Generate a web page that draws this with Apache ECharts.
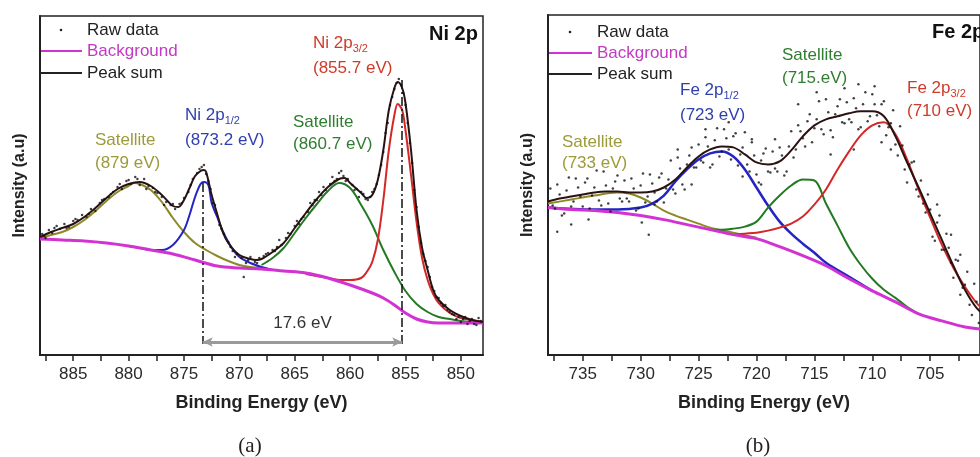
<!DOCTYPE html>
<html>
<head>
<meta charset="utf-8">
<script src="https://cdn.jsdelivr.net/npm/echarts@6/dist/echarts.min.js"></script>
<style>
  html, body { margin: 0; padding: 0; background: #fff; }
  #chart { width: 980px; height: 457px; }
</style>
</head>
<body>
<div id="chart"></div>
<script>
// ---- panel (a) Ni 2p : [binding energy, intensity] ----
const tickValuesA = [887.5, 885, 882.5, 880, 877.5, 875, 872.5, 870, 867.5, 865, 862.5, 860, 857.5, 855, 852.5, 850];
const tickLabelsA = [885, 880, 875, 870, 865, 860, 855, 850];

const backgroundA = [[888,116],[886,115],[884,114],[882,112],[880,109],[878,105],[876,101],[874,95],[872,89],[870,87],[868,86],[866,84],[864,82],[862,77],[860,70],[858,62],[857,57],[856,50],[855,42],[854,36],[853,33],[852,32],[850,32],[848,32]];
const satellite879 = [[888,117],[887,120],[886,123],[885,128],[884,135],[883,144],[882,154],[881,163],[880,169],[879.5,172],[879,171],[878,165],[877,153],[876,137],[875,123],[874,112],[873,105],[872,99],[871,94],[870,90],[869,88],[868,87],[867,85]];
const ni2p12 = [[880,109],[879,107],[878,105],[877,105],[876,110],[875,125],[874.5,140],[874,158],[873.5,171],[873.2,173],[872.8,170],[872.5,152],[872,138],[871.5,124],[871,113],[870.5,104],[870,98],[869,92],[868,88],[867,85]];
const satellite8607 = [[868,90],[867,97],[866,107],[865,122],[864,137],[863,151],[862,164],[861,172],[860,167],[859,150],[858,130],[857,105],[856,83],[855,64],[854,51],[853,43],[852,38],[851,36],[850,34],[848,32]];
const ni2p32 = [[864,81],[862,77],[861,75],[860,75],[859,77],[858.5,83],[858,93],[857.5,115],[857,155],[856.5,205],[856,240],[855.7,251],[855.3,245],[855,225],[854.5,180],[854,133],[853.5,97],[853,75],[852.5,61],[852,52],[851,42],[850,37],[849,35],[848,33]];
const peakSumA = [[888,118],[887,123],[886,127],[885,131],[884,138],[883,147],[882,157],[881,166],[880,171],[879,173],[878,169],[877,160],[876,149],[875.5,148],[875,155],[874.5,167],[874,179],[873.5,184],[873.2,185],[873,183],[872.5,160],[872,141],[871.5,123],[871,112],[870,100],[869,96],[868.5,95],[868,96],[867,103],[866,112],[865,127],[864,142],[863,156],[862,168],[861,176],[860.5,177],[860,172],[859,162],[858.5,157],[858,160],[857.5,175],[857,205],[856.5,245],[856,267],[855.7,273],[855.3,267],[855,252],[854.5,205],[854,145],[853.5,107],[853,85],[852.5,65],[852,55],[851,45],[850,39],[849,35],[848,33]];
const rawA = [[887.8,121],[887.6,119],[887.5,117],[887.2,125],[886.9,122],[886.7,127],[886.5,129],[886.2,126],[885.8,131],[885.6,127],[885.4,128],[885,134],[884.8,136],[884.6,135],[884.2,140],[883.8,138],[883.6,141],[883.4,146],[883,144],[882.6,152],[882.4,155],[882.2,156],[881.8,158],[881.6,161],[881.4,163],[881,168],[880.8,171],[880.6,166],[880.2,174],[880,175],[879.8,171],[879.4,178],[879.2,176],[879,170],[878.6,176],[878.4,166],[878.2,169],[877.8,167],[877.6,163],[877.4,162],[877,158],[876.8,150],[876.6,153],[876.2,150],[876,151],[875.8,146],[875.4,151],[875.2,152],[875,157],[874.6,163],[874.4,170],[874.2,176],[873.8,182],[873.6,186],[873.4,188],[873.2,190],[873,181],[872.8,174],[872.6,166],[872.4,152],[872.2,150],[871.8,130],[871.6,126],[871.4,121],[871,113],[870.8,108],[870.6,104],[870.4,98],[870.2,101],[869.8,97],[869.6,78],[869.4,92],[869.2,95],[869,98],[868.6,93],[868.4,92],[868.2,97],[867.8,99],[867.6,101],[867.4,102],[867,105],[866.8,104],[866.6,108],[866.4,115],[866.2,110],[865.8,117],[865.6,122],[865.4,121],[865,129],[864.8,134],[864.6,131],[864.4,136],[864.2,138],[863.8,143],[863.6,152],[863.4,150],[863.2,155],[863,155],[862.8,163],[862.6,160],[862.4,168],[862.2,165],[861.8,171],[861.6,178],[861.4,174],[861.2,176],[861,182],[860.8,184],[860.6,179],[860.4,174],[860.2,176],[859.8,170],[859.6,165],[859.4,166],[859.2,158],[859,163],[858.8,161],[858.6,156],[858.4,155],[858.2,158],[858,163],[857.8,166],[857.6,171],[857.4,180],[857.2,190],[857,203],[856.8,222],[856.6,232],[856.4,250],[856.2,258],[856,266],[855.8,272],[855.6,276],[855.4,270],[855.2,262],[855,250],[854.8,232],[854.6,212],[854.4,192],[854.2,165],[854,148],[853.8,128],[853.6,112],[853.4,101],[853.2,94],[853,88],[852.8,78],[852.6,68],[852.4,64],[852.2,58],[852,57],[851.8,52],[851.6,49],[851.4,50],[851.2,45],[851,43],[850.8,41],[850.6,40],[850.4,36],[850.2,38],[850,33],[849.8,36],[849.6,38],[849.4,31],[849.2,34],[849,36],[848.8,31],[848.6,30],[848.4,37],[848.2,34]];

// peak split marker: positions, top of dashed guides, level of arrow
const splitPeaksA = [873.3, 855.3];
const splitTopsA = [172, 275];
const splitArrowA = 13;
const splitTextA = '17.6 eV';

// ---- panel (b) Fe 2p ----
const tickValuesB = [737.5, 735, 732.5, 730, 727.5, 725, 722.5, 720, 717.5, 715, 712.5, 710, 707.5, 705, 702.5];
const tickLabelsB = [735, 730, 725, 720, 715, 710, 705];

const backgroundB = [[738,147],[736,145],[734,144],[732,142],[730,139],[728,135],[726,130],[724,125],[722,120],[720,116],[718,108],[716,99],[714,89],[712,76],[710,64],[708,53],[706,41],[704,34],[702,28],[700,25]];
const satellite733 = [[738,151],[736,155],[734,159],[732,162],[731,161],[730,157],[729,151],[728,144],[727,139],[726,135],[725,131],[724,127],[722,122],[720,117]];
const fe2p12 = [[738,147],[734,145],[732,145],[730,147],[729,151],[728,159],[727,173],[726,185],[725,195],[724,201],[723,203],[722,198],[721,185],[720,167],[719,149],[718,133],[717,121],[716,111],[715,102],[714,92],[712,78],[710,64]];
const satellite715 = [[724,125],[723,125],[722,126],[721,128],[720,133],[719,147],[718,159],[717,169],[716,175],[715,174],[714,151],[713,129],[712,107],[711,90],[710,76],[709,65],[708,57],[707,48],[706,41]];
const fe2p32 = [[722,120],[721,121],[720,122],[719,124],[718,127],[717,131],[716,138],[715,150],[714,165],[713,185],[712,203],[711,219],[710,229],[709,232],[708,220],[707,195],[706,165],[705,137],[704,110],[703,87],[702,68],[701,52],[700,41]];
const peakSumB = [[738,153],[737,156],[736,158],[735,160],[734,162],[733,163],[732,163],[731,162],[730,162],[729,163],[728,167],[727,175],[726,187],[725,198],[724,205],[723,208],[722,207],[721,200],[720,192],[719,190],[718,193],[717,204],[716,218],[715,229],[714,235],[713,238],[712,241],[711,243],[710,243],[709,238],[708,218],[707,192],[706,167],[705,141],[704,115],[703,89],[702,65],[701,47],[700,37]];
const rawB = [[737.8,166],[737.6,149],[737.4,146],[737.2,123],[737.2,170],[737,160],[736.8,139],[736.6,141],[736.4,164],[736.2,177],[736,130],[736,148],[735.8,153],[735.6,176],[735.4,167],[735.2,158],[735,148],[734.8,172],[734.6,176],[734.5,135],[734.4,146],[734.2,159],[734,167],[733.8,184],[733.6,154],[733.4,149],[733.2,183],[733,169],[732.8,151],[732.6,143],[732.4,166],[732.2,173],[732,179],[731.8,156],[731.6,153],[731.4,174],[731.2,156],[731,153],[730.8,176],[730.6,166],[730.4,144],[730.2,146],[730,169],[729.9,132],[729.8,181],[729.6,152],[729.4,158],[729.3,120],[729.2,180],[729,171],[728.8,150],[728.8,162],[728.6,153],[728.4,177],[728.2,181],[728,152],[727.8,166],[727.6,175],[727.4,194],[727.2,165],[727,161],[726.8,205],[726.8,197],[726.6,186],[726.4,170],[726.2,165],[726,190],[725.8,199],[725.6,170],[725.6,207],[725.4,187],[725.2,187],[725,210],[724.8,194],[724.6,192],[724.4,225],[724.4,217],[724.2,208],[724,187],[723.8,190],[723.6,214],[723.4,226],[723.2,198],[723,203],[722.8,225],[722.6,216],[722.4,232],[722.4,205],[722.2,195],[722,218],[721.8,221],[721.6,189],[721.4,200],[721.2,178],[721.2,207],[721,222],[720.8,190],[720.6,183],[720.4,212],[720.4,215],[720.2,199],[720,180],[719.8,172],[719.6,170],[719.6,194],[719.4,201],[719.2,206],[719,183],[718.8,182],[718.6,203],[718.4,215],[718.4,186],[718.2,183],[718,207],[717.8,199],[717.6,179],[717.4,183],[717.2,208],[717,223],[716.8,197],[716.6,205],[716.4,250],[716.4,229],[716.2,223],[716,216],[715.8,208],[715.6,233],[715.4,240],[715.2,212],[715,226],[714.8,262],[714.8,235],[714.6,253],[714.4,225],[714.2,220],[714,255],[713.8,242],[713.6,200],[713.6,224],[713.4,217],[713.2,240],[713,248],[712.8,255],[712.6,232],[712.4,266],[712.4,231],[712.2,252],[712,235],[711.8,232],[711.6,205],[711.6,256],[711.4,246],[711.2,270],[711.2,225],[711,227],[710.8,250],[710.6,262],[710.4,233],[710.2,238],[710,260],[709.8,250],[709.8,268],[709.6,239],[709.4,228],[709.2,212],[709.2,250],[709,253],[708.8,219],[708.6,227],[708.4,205],[708.4,231],[708.2,244],[708,210],[707.8,199],[707.6,228],[707.4,209],[707.2,185],[707,172],[706.8,190],[706.6,192],[706.4,193],[706.2,165],[706,158],[705.8,174],[705.6,151],[705.4,142],[705.2,160],[705,145],[704.8,118],[704.6,114],[704.4,150],[704.4,132],[704.2,139],[704,105],[703.8,105],[703.6,121],[703.4,107],[703.2,120],[703.2,92],[703,77],[702.8,95],[702.6,94],[702.4,100],[702.4,60],[702.2,67],[702,70],[701.8,83],[701.6,50],[701.4,40],[701.2,71],[701,53],[700.8,32]];

const FONT = 'Liberation Sans, Arial, sans-serif';
const C = {
  raw: '#111111', bg: '#d332d3', sum: '#2b1212',
  blue: '#2424c4', olive: '#8c8a26', green: '#237a23', red: '#d42828',
  oliveText: '#9c9a3a', blueText: '#2f3fae', greenText: '#2f7d2f', redText: '#d03a2a'
};

function curve(name, data, color, width, gi, z) {
  return {
    name: name, type: 'line', xAxisIndex: gi, yAxisIndex: gi, data: data,
    showSymbol: false, smooth: 0.35, z: z,
    lineStyle: { color: color, width: width }, itemStyle: { color: color }
  };
}

function xAxisFor(gi, min, max, ticks, labels) {
  return {
    gridIndex: gi, type: 'value', min: min, max: max, inverse: true,
    name: 'Binding Energy (eV)', nameLocation: 'middle', nameGap: 39,
    nameTextStyle: { fontFamily: FONT, fontSize: 18, fontWeight: 'bold', color: '#222' },
    axisLine: { show: true, lineStyle: { color: '#222', width: 2 } },
    axisTick: { show: true, customValues: ticks, length: 6, lineStyle: { color: '#222', width: 1.5 } },
    axisLabel: { customValues: labels, fontFamily: FONT, fontSize: 17, color: '#2a2a2a', margin: 11 },
    splitLine: { show: false }
  };
}

function yAxisFor(gi) {
  return {
    gridIndex: gi, type: 'value', min: 0, max: 339,
    name: 'Intensity (a.u)', nameLocation: 'middle', nameGap: 12, nameRotate: 90,
    nameTextStyle: { fontFamily: FONT, fontSize: 16, fontWeight: 'bold', color: '#222' },
    axisLine: { show: true, lineStyle: { color: '#222', width: 2 } },
    axisTick: { show: false }, axisLabel: { show: false }, splitLine: { show: false }
  };
}

function txt(x, y, text, color, size, weight) {
  return {
    type: 'text', x: x, y: y, silent: true,
    style: { text: text, fill: color, font: (weight || 'normal') + ' ' + size + 'px ' + FONT, verticalAlign: 'middle' }
  };
}

function subTxt(x, y, main, sub, color) {
  return {
    type: 'text', x: x, y: y, silent: true,
    style: {
      text: '{m|' + main + '}{s|' + sub + '}', verticalAlign: 'middle',
      rich: {
        m: { fill: color, fontFamily: FONT, fontSize: 17, lineHeight: 22, verticalAlign: 'middle' },
        s: { fill: color, fontFamily: FONT, fontSize: 11, lineHeight: 13, verticalAlign: 'bottom' }
      }
    }
  };
}

function legendBlock(x0, lineEnd, yRaw, yBg, ySum) {
  return [
    { type: 'circle', shape: { cx: (x0 + lineEnd) / 2, cy: yRaw, r: 1.3 }, style: { fill: '#222' }, silent: true },
    { type: 'line', shape: { x1: x0, y1: yBg, x2: lineEnd, y2: yBg }, style: { stroke: C.bg, lineWidth: 2 }, silent: true },
    { type: 'line', shape: { x1: x0, y1: ySum, x2: lineEnd, y2: ySum }, style: { stroke: '#222', lineWidth: 2 }, silent: true },
    txt(lineEnd + 5, yRaw, 'Raw data', '#222', 17),
    txt(lineEnd + 5, yBg, 'Background', '#c23ac2', 17),
    txt(lineEnd + 5, ySum, 'Peak sum', '#222', 17)
  ];
}

const splitMarks = {
  silent: true, animation: false, symbol: 'none',
  lineStyle: { color: '#111', width: 1.5, type: [9, 3, 2, 3] },
  label: { show: false },
  data: [
    [{ coord: [splitPeaksA[0], splitTopsA[0]] }, { coord: [splitPeaksA[0], splitArrowA - 2] }],
    [{ coord: [splitPeaksA[1], splitTopsA[1]] }, { coord: [splitPeaksA[1], splitArrowA - 2] }],
    [
      {
        coord: [splitPeaksA[0], splitArrowA], symbol: 'arrow', symbolSize: [7, 10],
        lineStyle: { color: '#9a9a9a', width: 3, type: 'solid' },
        label: { show: true, position: 'middle', distance: 10, formatter: splitTextA, fontFamily: FONT, fontSize: 17, color: '#333' }
      },
      { coord: [splitPeaksA[1], splitArrowA], symbol: 'arrow', symbolSize: [7, 10] }
    ]
  ]
};

const sumA = curve('Peak sum', peakSumA, C.sum, 2, 0, 6);
sumA.markLine = splitMarks;

const chart = echarts.init(document.getElementById('chart'), null, { renderer: 'canvas' });
chart.setOption({
  animation: false,
  backgroundColor: '#ffffff',
  grid: [
    { left: 40, top: 16, width: 443, height: 339, show: true, borderColor: '#222', borderWidth: 1.5, backgroundColor: 'transparent' },
    { left: 548, top: 15, width: 444, height: 340, show: true, borderColor: '#222', borderWidth: 1.5, backgroundColor: 'transparent' }
  ],
  xAxis: [
    xAxisFor(0, 848, 888, tickValuesA, tickLabelsA),
    xAxisFor(1, 700.7, 738, tickValuesB, tickLabelsB)
  ],
  yAxis: [yAxisFor(0), yAxisFor(1)],
  series: [
    curve('Satellite 879', satellite879, C.olive, 2, 0, 2),
    curve('Ni 2p1/2', ni2p12, C.blue, 2, 0, 2),
    curve('Satellite 860.7', satellite8607, C.green, 2, 0, 2),
    curve('Ni 2p3/2', ni2p32, C.red, 2, 0, 2),
    curve('Background', backgroundA, C.bg, 3, 0, 4),
    sumA,
    { name: 'Raw data', type: 'scatter', xAxisIndex: 0, yAxisIndex: 0, data: rawA, symbolSize: 2.5, itemStyle: { color: C.raw }, z: 8 },

    curve('Satellite 733', satellite733, C.olive, 2, 1, 2),
    curve('Fe 2p1/2', fe2p12, C.blue, 2.5, 1, 2),
    curve('Satellite 715', satellite715, C.green, 2, 1, 2),
    curve('Fe 2p3/2', fe2p32, C.red, 2, 1, 2),
    curve('Background', backgroundB, C.bg, 3, 1, 4),
    curve('Peak sum', peakSumB, C.sum, 2, 1, 6),
    { name: 'Raw data', type: 'scatter', xAxisIndex: 1, yAxisIndex: 1, data: rawB, symbolSize: 2.5, itemStyle: { color: C.raw }, z: 8 }
  ],
  graphic: [].concat(
    legendBlock(40, 82, 30, 51, 73),
    legendBlock(548, 592, 32, 53, 74),
    [
      txt(95, 140, 'Satellite', C.oliveText, 17),
      txt(95, 163, '(879 eV)', C.oliveText, 17),
      subTxt(185, 115, 'Ni 2p', '1/2', C.blueText),
      txt(185, 140, '(873.2 eV)', C.blueText, 17),
      txt(293, 122, 'Satellite', C.greenText, 17),
      txt(293, 144, '(860.7 eV)', C.greenText, 17),
      subTxt(313, 43, 'Ni 2p', '3/2', C.redText),
      txt(313, 68, '(855.7 eV)', C.redText, 17),
      txt(429, 34, 'Ni 2p', '#111', 20, 'bold'),

      txt(562, 142, 'Satellite', C.oliveText, 17),
      txt(562, 163, '(733 eV)', C.oliveText, 17),
      subTxt(680, 90, 'Fe 2p', '1/2', C.blueText),
      txt(680, 115, '(723 eV)', C.blueText, 17),
      txt(782, 55, 'Satellite', C.greenText, 17),
      txt(782, 78, '(715.eV)', C.greenText, 17),
      subTxt(907, 88, 'Fe 2p', '3/2', C.redText),
      txt(907, 111, '(710 eV)', C.redText, 17),
      txt(932, 32, 'Fe 2p', '#111', 20, 'bold'),

      { type: 'text', x: 250, y: 446, silent: true, style: { text: '(a)', fill: '#222', font: '21px Liberation Serif, DejaVu Serif, serif', align: 'center', verticalAlign: 'middle' } },
      { type: 'text', x: 758, y: 446, silent: true, style: { text: '(b)', fill: '#222', font: '21px Liberation Serif, DejaVu Serif, serif', align: 'center', verticalAlign: 'middle' } }
    ]
  )
});
</script>
</body>
</html>
